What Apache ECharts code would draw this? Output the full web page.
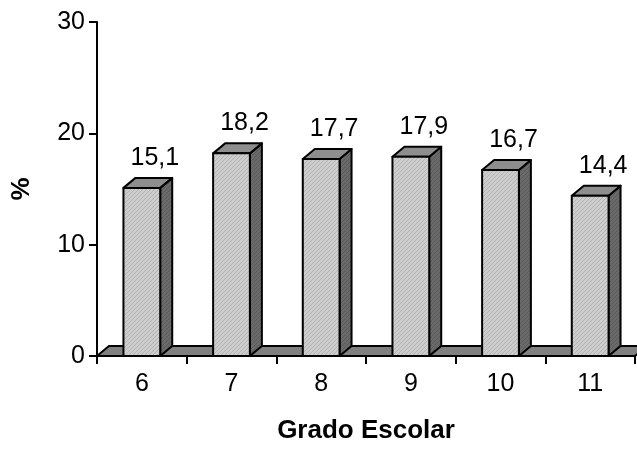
<!DOCTYPE html>
<html>
<head>
<meta charset="utf-8">
<script src="https://cdn.jsdelivr.net/npm/echarts@6/dist/echarts.min.js"></script>
<style>
  html, body { margin: 0; padding: 0; background: #fff; }
  #chart { width: 637px; height: 449px; }
</style>
</head>
<body>
<div id="chart"></div>
<script>
// Grade levels and share (%) per grade
const grades = ['6', '7', '8', '9', '10', '11'];
const percents = [15.1, 18.2, 17.7, 17.9, 16.7, 14.4];
const yTicks = [0, 10, 20, 30];

const FONT = '"Liberation Sans", Arial, sans-serif';
const DX = 12;   // depth offset to the right
const DY = 10;   // depth offset upward

// Fine diagonal texture used on the bar faces
function makePattern(base, line) {
  const c = document.createElement('canvas');
  c.width = 4; c.height = 4;
  const g = c.getContext('2d');
  g.fillStyle = base;
  g.fillRect(0, 0, 4, 4);
  g.fillStyle = line;
  for (let i = 0; i < 4; i++) g.fillRect(i, 3 - i, 1, 1);
  return { image: c, repeat: 'repeat' };
}
const frontFill = makePattern('#cdcdcd', '#b4b4b4');
const sideFill = makePattern('#6a6a6a', '#5a5a5a');
const topFill = '#8e8e8e';

const fmt = v => v.toFixed(1).replace('.', ',');

// Grey floor slab under the bars
function renderFloor(params, api) {
  const cs = params.coordSys;
  const yb = api.coord([0, 0])[1];
  const L = cs.x, R = cs.x + cs.width;
  return {
    type: 'polygon',
    shape: { points: [[L, yb], [L + DX, yb - DY], [R + DX, yb - DY], [R, yb]] },
    style: { fill: '#808080', stroke: '#000', lineWidth: 2 }
  };
}

// Box bar: front face, top face, right side face and value label
function renderBar(params, api) {
  const idx = api.value(0);
  const v = api.value(1);
  const base = api.coord([idx, 0]);
  const top = api.coord([idx, v]);
  const band = api.size([1, 0])[0];
  const w = band * 0.41;
  const x0 = base[0] - w / 2, x1 = base[0] + w / 2;
  const yb = base[1], yt = top[1];
  const stroke = { stroke: '#000', lineWidth: 2, lineJoin: 'round' };
  return {
    type: 'group',
    children: [
      { type: 'polygon', shape: { points: [[x1, yt], [x1 + DX, yt - DY], [x1 + DX, yb - DY], [x1, yb]] },
        style: Object.assign({ fill: sideFill }, stroke) },
      { type: 'polygon', shape: { points: [[x0, yt], [x0 + DX, yt - DY], [x1 + DX, yt - DY], [x1, yt]] },
        style: Object.assign({ fill: topFill }, stroke) },
      { type: 'rect', shape: { x: x0, y: yt, width: w, height: yb - yt },
        style: Object.assign({ fill: frontFill }, stroke) },
      { type: 'text', x: base[0] + 13, y: yt - 30,
        style: { text: fmt(v), fill: '#000', font: '25px ' + FONT, align: 'center', verticalAlign: 'middle' } }
    ]
  };
}

const chart = echarts.init(document.getElementById('chart'), null, { renderer: 'canvas' });
chart.setOption({
  animation: false,
  backgroundColor: '#fff',
  grid: { left: 97, right: 2, top: 22, bottom: 87, containLabel: false },
  xAxis: {
    type: 'category',
    data: grades,
    boundaryGap: true,
    name: 'Grado Escolar',
    nameLocation: 'middle',
    nameGap: 62,
    nameTextStyle: { fontFamily: FONT, fontSize: 26, fontWeight: 'bold', color: '#000' },
    axisLine: { lineStyle: { color: '#000', width: 2 } },
    axisTick: { show: true, alignWithLabel: false, length: 8, lineStyle: { color: '#000', width: 2 } },
    axisLabel: { fontFamily: FONT, fontSize: 25, color: '#000', margin: 16 },
    splitLine: { show: false }
  },
  yAxis: {
    type: 'value',
    min: yTicks[0],
    max: yTicks[yTicks.length - 1],
    interval: yTicks[1] - yTicks[0],
    name: '%',
    nameLocation: 'middle',
    nameRotate: 90,
    nameGap: 62,
    nameTextStyle: { fontFamily: FONT, fontSize: 26, fontWeight: 'bold', color: '#000' },
    axisLine: { show: true, lineStyle: { color: '#000', width: 2 } },
    axisTick: { show: true, length: 8, lineStyle: { color: '#000', width: 2 } },
    axisLabel: { fontFamily: FONT, fontSize: 25, color: '#000', margin: 12 },
    splitLine: { show: false }
  },
  series: [
    {
      type: 'custom',
      renderItem: renderFloor,
      data: [[0, 0]],
      clip: false,
      silent: true,
      z: 1
    },
    {
      type: 'custom',
      renderItem: renderBar,
      data: percents.map((v, i) => [i, v]),
      clip: false,
      z: 2
    }
  ]
});
</script>
</body>
</html>
